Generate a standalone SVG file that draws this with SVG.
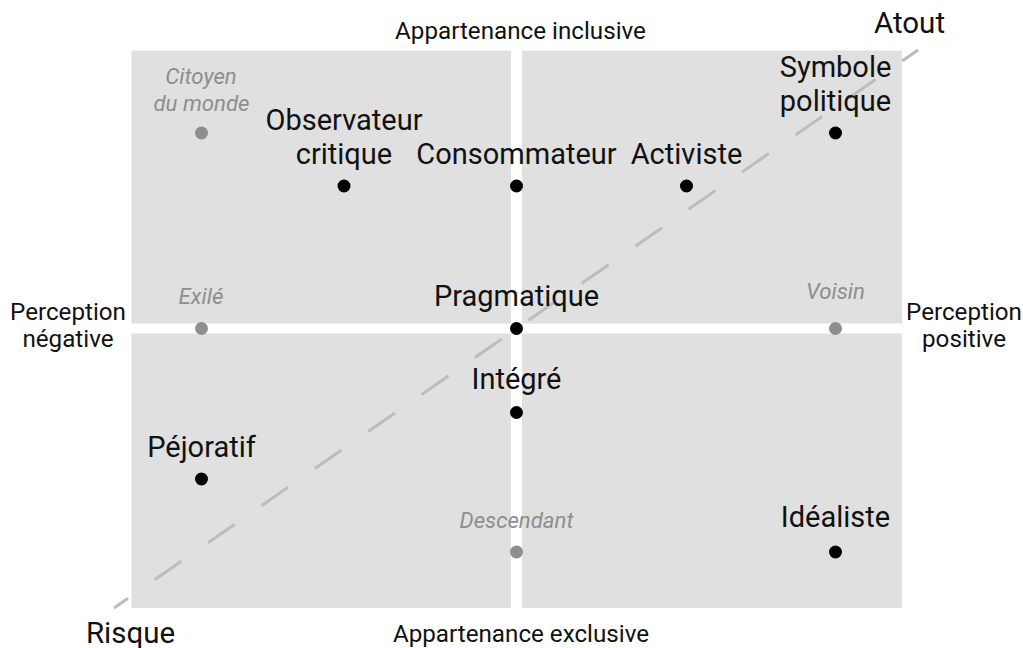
<svg xmlns="http://www.w3.org/2000/svg" width="1023" height="648" viewBox="0 0 1023 648">
  <style>
    .quad { fill: #e0e0e0; }
    .axis { font-family: Roboto, "Liberation Sans", sans-serif; font-size: 24.2px; fill: #111; text-anchor: middle; }
    .pole { font-family: Roboto, "Liberation Sans", sans-serif; font-size: 29.5px; fill: #111; text-anchor: middle; }
    .lbl { font-family: Roboto, "Liberation Sans", sans-serif; font-size: 29px; fill: #111; text-anchor: middle; }
    .glbl { font-family: Roboto, "Liberation Sans", sans-serif; font-size: 22.2px; font-style: italic; fill: #8e8e8e; text-anchor: middle; }
    .dot { fill: #000; }
    .gdot { fill: #8e8e8e; }
    .diag { stroke: #bcbcbc; stroke-width: 3; fill: none; stroke-dasharray: 32.5 32.5; stroke-dashoffset: 15.5; }
  </style>
  <rect width="1023" height="648" fill="#ffffff"/>
  <g id="quadrants">
    <rect class="quad" x="131.5" y="50.5" width="379.5" height="273"/>
    <rect class="quad" x="522" y="50.5" width="380" height="273"/>
    <rect class="quad" x="131.5" y="333.5" width="379.5" height="274.5"/>
    <rect class="quad" x="522" y="333.5" width="380" height="274.5"/>
  </g>
  <g id="connectors">
    <line class="diag" x1="114" y1="608" x2="918" y2="50"/>
  </g>
  <g id="axis-labels">
    <text class="axis" x="520.5" y="39">Appartenance inclusive</text>
    <text class="axis" x="521" y="642">Appartenance exclusive</text>
    <text class="axis" x="68" y="320">Perception</text>
    <text class="axis" x="68" y="347">négative</text>
    <text class="axis" x="964" y="320">Perception</text>
    <text class="axis" x="964" y="347">positive</text>
    <text class="pole" x="909.5" y="33">Atout</text>
    <text class="pole" x="130.5" y="643">Risque</text>
  </g>
  <g id="citoyen">
    <text class="glbl" x="201" y="84">Citoyen</text>
    <text class="glbl" x="201.5" y="111">du monde</text>
    <circle class="gdot" cx="201.5" cy="133" r="6.5"/>
  </g>
  <g id="observateur">
    <text class="lbl" x="344" y="130">Observateur</text>
    <text class="lbl" x="344" y="164">critique</text>
    <circle class="dot" cx="344" cy="186" r="6.5"/>
  </g>
  <g id="consommateur">
    <text class="lbl" x="516.5" y="164">Consommateur</text>
    <circle class="dot" cx="516.5" cy="186" r="6.5"/>
  </g>
  <g id="activiste">
    <text class="lbl" x="686.5" y="164">Activiste</text>
    <circle class="dot" cx="686.5" cy="186" r="6.5"/>
  </g>
  <g id="symbole">
    <text class="lbl" x="835.5" y="77">Symbole</text>
    <text class="lbl" x="835.5" y="111">politique</text>
    <circle class="dot" cx="835.5" cy="133" r="6.5"/>
  </g>
  <g id="exile">
    <text class="glbl" x="201" y="304">Exilé</text>
    <circle class="gdot" cx="201.5" cy="328.5" r="6.5"/>
  </g>
  <g id="pragmatique">
    <text class="lbl" x="516.5" y="306">Pragmatique</text>
    <circle class="dot" cx="516.5" cy="328.5" r="6.5"/>
  </g>
  <g id="voisin">
    <text class="glbl" x="835.5" y="299">Voisin</text>
    <circle class="gdot" cx="835.5" cy="328.5" r="6.5"/>
  </g>
  <g id="integre">
    <text class="lbl" x="516.5" y="389">Intégré</text>
    <circle class="dot" cx="516.5" cy="412.5" r="6.5"/>
  </g>
  <g id="pejoratif">
    <text class="lbl" x="201.5" y="457">Péjoratif</text>
    <circle class="dot" cx="201.5" cy="479" r="6.5"/>
  </g>
  <g id="descendant">
    <text class="glbl" x="516.5" y="528">Descendant</text>
    <circle class="gdot" cx="516.5" cy="552" r="6.5"/>
  </g>
  <g id="idealiste">
    <text class="lbl" x="835.5" y="527">Idéaliste</text>
    <circle class="dot" cx="835.5" cy="552" r="6.5"/>
  </g>
</svg>
